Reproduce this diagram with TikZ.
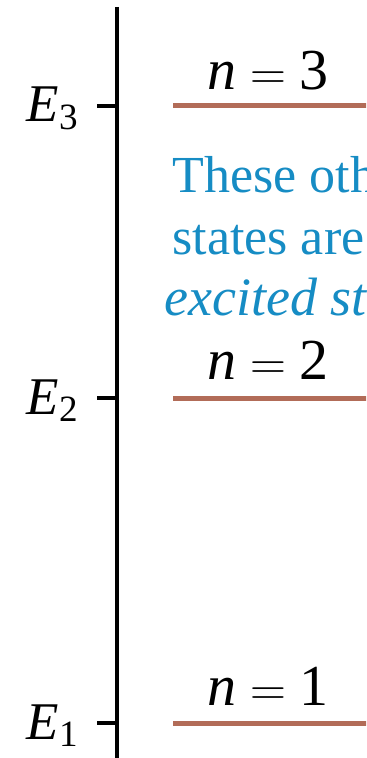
\documentclass[tikz,border=0pt]{standalone}
\usepackage{amsmath}
\usepackage{fontspec}
\setmainfont{Liberation Serif}
\usetikzlibrary{positioning}
\definecolor{levelbrown}{RGB}{178,108,88}
\definecolor{notecyan}{RGB}{22,140,196}

\begin{document}
\begin{tikzpicture}[
    x=0.5pt, y=-0.5pt,
    level/.style={
        line width=2.5pt,
        draw=levelbrown
    },
    axisline/.style={
        line width=1.8pt,
        draw=black
    },
    elabel/.style={
        anchor=base east,
        inner sep=0pt,
        font=\fontsize{26.5}{30}\selectfont
    },
    nlabel/.style={
        anchor=base west,
        inner sep=0pt,
        font=\fontsize{29}{34}\selectfont
    },
    note/.style={
        anchor=base west,
        inner sep=0pt,
        text=notecyan,
        font=\fontsize{26}{31}\selectfont
    }
]
\useasboundingbox (0,0) rectangle (366,758);
\clip (0,0) rectangle (366,758);

% ------------------------------------------------
% Energy axis
% ------------------------------------------------
\coordinate (top) at (117,7);
\coordinate (bot) at (117,770);
\draw[axisline] (top) -- (bot);

% ------------------------------------------------
% Levels, ticks and labels
% ------------------------------------------------
\foreach \n/\y/\ny in {3/106/90, 2/398/379, 1/723/705}{
  \coordinate (a\n) at (117,\y);
  \coordinate (t\n) at (97,\y);
  \coordinate (s\n) at (173,\y);
  \coordinate (e\n) at (380,\y);
  \draw[axisline] (t\n) -- (a\n);
  \draw[level] (s\n) -- (e\n);
  \node[elabel] (E\n) at (79,\y+16) {$\textit{E}_{\textrm{\n}}$};
  \node[nlabel] (n\n) at (207,\ny) {$\textit{n} = \textrm{\n}$};
}

% ------------------------------------------------
% Note on excited states (cut by the frame)
% ------------------------------------------------
\node[note] (note1) at (172,193) {These oth};
\node[note] (note2) at (172,255) {states are};
\node[note, font=\fontsize{27}{31}\selectfont] (note3) at (164,316) {\textit{excited st}};

\end{tikzpicture}
\end{document}
